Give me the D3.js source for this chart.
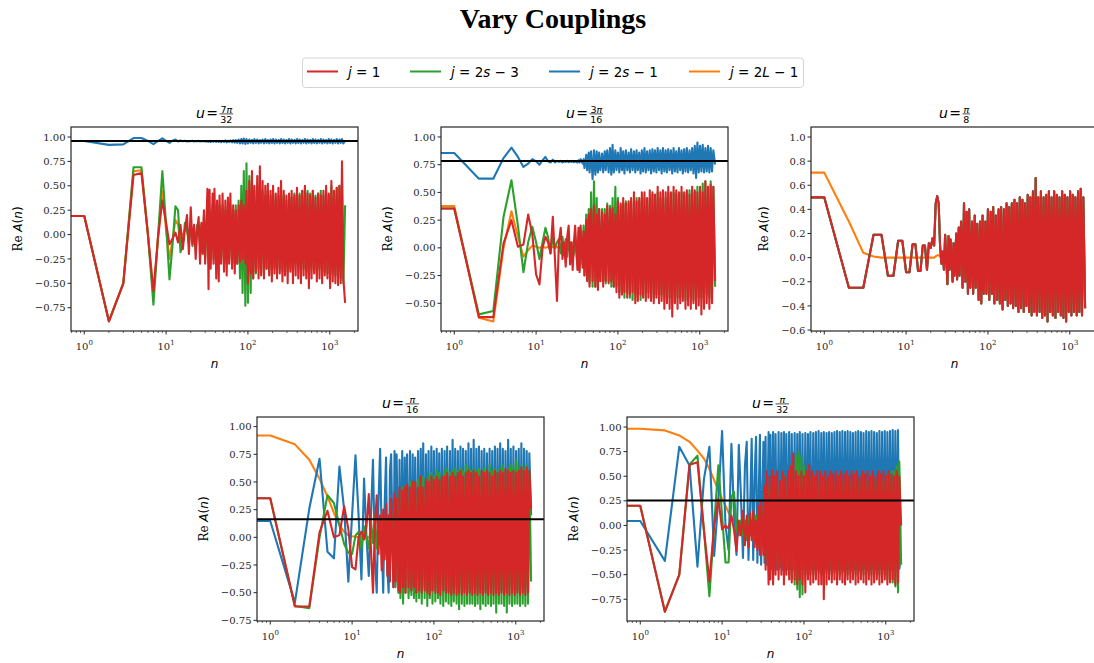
<!DOCTYPE html>
<html><head><meta charset="utf-8">
<script src="https://cdn.jsdelivr.net/npm/d3@7"></script>
<style>body{margin:0;background:#fff}svg{display:block}</style>
</head><body>
<svg id="c" width="1094" height="663"></svg>
<script>
// ---------------- DATA ----------------
const N_EARLY = [0,1,2,3,4,5,6,7,8,9,10,11,12,13,14,15,16,17,18,19,20,21,22,23,24,25,26,27,28,29,30];
const N_DENSE = [32,33,34,35,37,38,39,41,42,44, 45,47,49,51,53,55,57,59,61,64, 66,69,71,74,77,80,83,86,89,93,
 96,100,104,108,112,116,120,125,130,135, 140,145,151,157,163,169,175,182,189,196, 203,211,219,227,236,245,254,264,274,284,
 295,306,318,330,342,355,369,383,397,412, 428,444,461,479,497,516,535,556,577,599, 621,645,669,695,721,749,777,807,837,869,
 902,936,972,1009,1047,1087,1128,1171,1216,1262, 1310,1360,1411,1465,1540];
const N_ORANGE_TAIL = [40,100,400,1540];

const SERIES_KEYS = ['red','green','blue','orange'];
const LEGEND_LABELS = ['j = 1','j = 2s − 3','j = 2s − 1','j = 2L − 1'];
const TITLES = [['7π','32'],['3π','16'],['π','8'],['π','16'],['π','32']];
const HLINES = [0.959, 0.784, null, 0.163, 0.253];
const YTICKS_A = [-0.75,-0.5,-0.25,0,0.25,0.5,0.75,1.0];
const YTICKS_B = [-0.5,-0.25,0,0.25,0.5,0.75,1.0];
const YTICKS_C = [-0.6,-0.4,-0.2,0,0.2,0.4,0.6,0.8,1.0];
const X_MAJOR = [1,10,100,1000];
const X_MAJOR_EXP = ['0','1','2','3'];

// ---- u = 7pi/32 ----
const P1_RED = [0.19,0.19,-0.89,-0.5,0.61,0.63,0.0,-0.58,-0.02,0.35,0.12,-0.1,-0.04,0.02,-0.08,0.1,-0.15,0.05,0.2,-0.2,0.28,-0.1,0.1,-0.25,0.05,0.18,-0.3,0.12,-0.2,0.25,-0.3,
0.47,-0.56,0.46,-0.35,0.42,-0.3,0.47,-0.45,0.35,-0.48,
0.4,-0.3,0.42,-0.38,0.35,-0.42,0.38,-0.3,0.42,-0.35,
0.3,-0.4,0.25,-0.3,0.3,-0.28,0.35,-0.25,0.3,-0.3,
0.45,-0.5,0.55,-0.4,0.65,-0.45,0.5,-0.38,0.6,-0.45,
0.7,-0.42,0.55,-0.45,0.5,-0.35,0.52,-0.42,0.45,-0.48,
0.5,-0.4,0.42,-0.45,0.48,-0.4,0.55,-0.48,0.45,-0.42,
0.4,-0.5,0.42,-0.38,0.45,-0.5,0.4,-0.42,0.48,-0.45,
0.4,-0.5,0.45,-0.42,0.5,-0.45,0.42,-0.55,0.4,-0.45,
0.45,-0.4,0.38,-0.48,0.42,-0.45,0.4,-0.5,0.45,-0.42,
0.5,-0.45,0.42,-0.55,0.55,-0.48,0.45,-0.5,0.48,-0.52,
0.5,-0.5,0.75,-0.45,-0.7];
const P1_GREEN = [0.19,0.19,-0.89,-0.5,0.69,0.69,0.0,-0.72,0.0,0.65,0.1,-0.46,-0.1,0.29,0.25,-0.18,-0.1,0.12,0.05,-0.1,0.1,-0.12,0.08,-0.15,0.1,0.05,-0.1,0.1,-0.15,0.2,-0.25,
0.3,-0.3,0.25,-0.3,0.3,-0.25,0.3,-0.3,0.25,-0.3,
0.3,-0.25,0.3,-0.3,0.25,-0.3,0.3,-0.25,0.3,-0.3,
0.25,-0.3,0.3,-0.3,0.35,-0.45,0.5,-0.6,0.65,-0.73,
0.73,-0.7,0.6,-0.6,0.5,-0.45,0.45,-0.4,0.5,-0.35,
0.6,-0.4,0.45,-0.38,0.4,-0.35,0.45,-0.4,0.4,-0.35,
0.42,-0.35,0.38,-0.4,0.4,-0.35,0.42,-0.38,0.4,-0.35,
0.35,-0.38,0.4,-0.35,0.38,-0.4,0.42,-0.3,0.4,-0.35,
0.42,-0.4,0.45,-0.35,0.4,-0.38,0.45,-0.4,0.42,-0.35,
0.45,-0.38,0.4,-0.4,0.42,-0.35,0.45,-0.4,0.4,-0.38,
0.45,-0.4,0.4,-0.45,0.5,-0.4,0.45,-0.42,0.48,-0.45,
0.5,-0.45,0.55,-0.5,0.3];
const P1_BLUE = [0.96,0.96,0.92,0.925,0.99,0.99,0.96,0.928,0.96,0.986,0.96,0.94,0.962,0.975,0.955,0.965,0.958,0.962,0.955,0.96,0.957,0.962,0.955,0.96,0.956,0.961,0.955,0.96,0.957,0.96,0.955,
0.958,0.952,0.96,0.95,0.958,0.952,0.96,0.95,0.962,0.95,
0.96,0.948,0.962,0.95,0.965,0.946,0.962,0.95,0.965,0.945,
0.968,0.942,0.97,0.94,0.975,0.935,0.98,0.935,0.985,0.93,
0.98,0.935,0.975,0.94,0.97,0.935,0.98,0.94,0.975,0.935,
0.97,0.94,0.975,0.935,0.98,0.94,0.97,0.935,0.975,0.94,
0.98,0.935,0.975,0.94,0.97,0.935,0.98,0.94,0.975,0.935,
0.97,0.94,0.98,0.935,0.975,0.94,0.97,0.935,0.98,0.94,
0.975,0.935,0.97,0.94,0.98,0.935,0.975,0.94,0.97,0.935,
0.98,0.94,0.975,0.935,0.97,0.94,0.98,0.935,0.975,0.94,
0.97,0.935,0.98,0.94,0.975,0.935,0.97,0.94,0.98,0.935,
0.975,0.94,0.98,0.935,0.96];
const P1_ORANGE = [0.19,0.19,-0.89,-0.5,0.65,0.66,0.0,-0.62,0.0,0.45,0.05,-0.25,-0.05,0.15,0.1,-0.1,0.0,0.05,0.05,-0.02,0.05,-0.05,0.03,-0.03,0.02,0.01,-0.02,0.02,-0.01,0.01,0.0, 0,0,0,0];

// ---- u = 3pi/16 ----
const P2_RED = [0.355,0.355,-0.625,-0.625,0.04,0.25,0.01,0.03,0.3,0.12,-0.24,-0.33,0.0,0.1,0.05,-0.05,0.28,-0.1,-0.48,0.05,0.18,-0.1,0.05,-0.17,0.1,0.2,-0.15,0.05,-0.2,0.05,0.2,
-0.2,0.18,-0.22,0.2,-0.18,0.15,-0.25,0.25,-0.3,0.3,
-0.35,0.35,-0.3,0.38,-0.35,0.3,-0.38,0.35,-0.3,0.32,
-0.35,0.3,-0.3,0.38,-0.32,0.35,-0.3,0.36,-0.35,0.3,
-0.4,0.42,-0.45,0.4,-0.42,0.45,-0.4,0.4,-0.45,0.42,
-0.42,0.45,-0.4,0.5,-0.5,0.42,-0.48,0.45,-0.42,0.5,
-0.45,0.5,-0.48,0.45,-0.45,0.52,-0.48,0.5,-0.5,0.48,
-0.45,0.55,-0.5,0.5,-0.48,0.52,-0.55,0.5,-0.5,0.55,
-0.55,0.5,-0.62,0.55,-0.5,0.52,-0.55,0.5,-0.5,0.55,
-0.48,0.5,-0.55,0.52,-0.52,0.48,-0.55,0.55,-0.5,0.52,
-0.55,0.5,-0.52,0.55,-0.6,0.5,-0.55,0.6,-0.5,0.55,
-0.55,0.57,-0.5,0.55,-0.3];
const P2_GREEN = [0.355,0.355,-0.6,-0.57,0.28,0.61,0.2,-0.22,0.05,0.19,0.05,-0.1,0.05,0.18,0.1,-0.05,0.1,0.0,0.05,0.08,-0.05,0.1,-0.05,0.08,-0.08,0.1,-0.05,0.05,-0.1,-0.05,0.1,
-0.15,0.15,-0.2,0.15,-0.15,0.2,-0.25,0.3,-0.28,0.35,
-0.32,0.5,-0.35,0.6,-0.35,0.45,-0.3,0.35,-0.3,0.35,
-0.3,0.35,-0.32,0.4,-0.3,0.38,-0.35,0.45,-0.35,0.55,
-0.35,0.45,-0.4,0.38,-0.42,0.4,-0.45,0.42,-0.4,0.4,
-0.45,0.42,-0.47,0.4,-0.42,0.45,-0.45,0.42,-0.47,0.45,
-0.42,0.45,-0.45,0.42,-0.4,0.45,-0.42,0.48,-0.45,0.45,
-0.42,0.5,-0.45,0.45,-0.42,0.48,-0.45,0.45,-0.47,0.5,
-0.45,0.48,-0.5,0.5,-0.45,0.48,-0.45,0.45,-0.45,0.5,
-0.45,0.48,-0.47,0.5,-0.45,0.52,-0.45,0.5,-0.47,0.5,
-0.45,0.55,-0.45,0.52,-0.45,0.58,-0.45,0.6,-0.42,0.55,
-0.45,0.6,-0.42,0.55,-0.35];
const P2_BLUE = [0.855,0.855,0.624,0.624,0.81,0.904,0.82,0.73,0.76,0.8,0.78,0.75,0.79,0.82,0.78,0.77,0.795,0.77,0.785,0.775,0.785,0.77,0.78,0.775,0.785,0.772,0.782,0.775,0.785,0.772,0.78,
0.77,0.79,0.77,0.8,0.76,0.8,0.72,0.84,0.7,0.86,
0.68,0.87,0.62,0.88,0.66,0.87,0.68,0.86,0.7,0.85,
0.68,0.87,0.7,0.88,0.68,0.9,0.66,0.93,0.68,0.88,
0.7,0.86,0.68,0.9,0.7,0.87,0.67,0.88,0.7,0.86,
0.68,0.89,0.7,0.87,0.68,0.88,0.7,0.86,0.67,0.88,
0.69,0.9,0.68,0.87,0.7,0.88,0.67,0.89,0.69,0.88,
0.68,0.9,0.7,0.88,0.67,0.9,0.69,0.88,0.68,0.89,
0.7,0.88,0.67,0.9,0.69,0.87,0.68,0.9,0.7,0.88,
0.67,0.89,0.69,0.9,0.68,0.88,0.7,0.9,0.67,0.92,
0.63,0.95,0.68,0.92,0.69,0.93,0.68,0.9,0.69,0.92,
0.68,0.9,0.69,0.88,0.75];
const P2_ORANGE = [0.378,0.378,-0.63,-0.665,0.0,0.33,0.1,-0.08,-0.02,0.02,0.01,0.0,0.01,0.0,0.01,0.0,0.01,0.0,0.01,0.0,0.01,0.0,0.01,0.0,0.01,0.0,0.01,0.0,0.01,0.0,0.0, 0,0,0,0];

// ---- u = pi/8 (j = 1, 2s-3 and 2s-1 coincide) ----
const P3_RED = [0.5,0.5,-0.25,-0.25,0.19,0.19,-0.15,-0.15,0.14,0.14,-0.12,-0.12,0.11,0.11,-0.11,-0.11,0.1,0.1,-0.1,0.12,0.08,0.16,0.1,0.45,0.51,0.45,0.1,-0.05,0.05,-0.1,0.19,
-0.22,0.18,-0.1,0.15,-0.2,0.12,-0.15,0.2,-0.18,0.25,
-0.15,0.3,-0.25,0.45,-0.2,0.38,-0.3,0.4,-0.25,0.3,
-0.3,0.35,-0.25,0.28,-0.35,0.3,-0.38,0.35,-0.3,0.3,
-0.3,0.4,-0.35,0.38,-0.3,0.42,-0.38,0.35,-0.35,0.4,
-0.38,0.42,-0.43,0.4,-0.35,0.45,-0.4,0.42,-0.38,0.45,
-0.42,0.48,-0.4,0.45,-0.45,0.5,-0.42,0.48,-0.45,0.45,
-0.4,0.52,-0.45,0.5,-0.48,0.55,-0.45,0.66,-0.48,0.5,
-0.45,0.55,-0.5,0.5,-0.48,0.52,-0.53,0.55,-0.45,0.5,
-0.48,0.55,-0.5,0.52,-0.45,0.5,-0.48,0.55,-0.5,0.52,
-0.53,0.5,-0.45,0.55,-0.48,0.52,-0.45,0.5,-0.48,0.55,
-0.45,0.57,-0.48,0.5,-0.42];
const P3_GREEN = P3_RED;
const P3_BLUE = P3_RED;
const P3_ORANGE = [0.705,0.705,0.3,0.04,0.01,0.0,0.0,0.0,0.0,0.0,0.0,0.0,0.0,0.0,0.0,0.0,0.0,0.0,0.0,0.0,0.0,0.0,0.0,0.01,0.02,0.02,0.01,0.0,0.0,0.0,0.0, 0,0,0,0];

// ---- u = pi/16 ----
const P4_RED = [0.353,0.353,-0.625,-0.625,0.045,0.24,0.0,0.02,0.28,0.075,-0.27,-0.29,0.0,0.05,-0.02,0.1,0.39,-0.1,-0.5,0.1,0.38,-0.15,0.2,-0.3,0.25,-0.2,0.3,-0.35,0.2,-0.4,0.35,
-0.45,0.4,-0.4,0.35,-0.48,0.45,-0.5,0.42,-0.45,0.45,
-0.5,0.48,-0.45,0.45,-0.48,0.5,-0.45,0.5,-0.5,0.45,
-0.48,0.55,-0.5,0.45,-0.48,0.52,-0.5,0.5,-0.52,0.55,
-0.48,0.52,-0.5,0.55,-0.5,0.52,-0.52,0.55,-0.48,0.55,
-0.5,0.58,-0.5,0.55,-0.52,0.58,-0.5,0.55,-0.52,0.58,
-0.5,0.6,-0.52,0.55,-0.5,0.58,-0.52,0.6,-0.5,0.58,
-0.52,0.6,-0.5,0.58,-0.52,0.55,-0.5,0.6,-0.52,0.58,
-0.5,0.6,-0.52,0.58,-0.5,0.55,-0.52,0.6,-0.5,0.58,
-0.52,0.6,-0.5,0.58,-0.52,0.62,-0.5,0.6,-0.52,0.58,
-0.5,0.6,-0.52,0.58,-0.5,0.6,-0.52,0.63,-0.5,0.6,
-0.52,0.63,-0.5,0.6,0.25];
const P4_GREEN = [0.353,0.353,-0.62,-0.64,0.0,0.38,0.31,0.11,-0.06,-0.14,-0.15,0.015,0.05,-0.1,0.1,0.0,-0.1,0.15,-0.05,0.2,-0.1,0.1,-0.05,0.12,-0.12,0.1,-0.15,0.15,-0.2,-0.1,0.25,
-0.35,0.3,-0.45,0.35,-0.5,0.4,-0.55,0.45,-0.6,0.42,
-0.5,0.45,-0.55,0.5,-0.52,0.48,-0.55,0.5,-0.58,0.52,
-0.55,0.5,-0.6,0.55,-0.55,0.52,-0.62,0.55,-0.55,0.58,
-0.6,0.55,-0.58,0.6,-0.55,0.58,-0.6,0.55,-0.62,0.6,
-0.58,0.62,-0.6,0.58,-0.62,0.6,-0.58,0.62,-0.6,0.6,
-0.65,0.62,-0.6,0.6,-0.62,0.65,-0.6,0.62,-0.6,0.6,
-0.6,0.62,-0.62,0.6,-0.6,0.62,-0.65,0.6,-0.6,0.62,
-0.62,0.6,-0.6,0.65,-0.62,0.6,-0.6,0.62,-0.68,0.6,
-0.6,0.62,-0.6,0.65,-0.62,0.6,-0.68,0.62,-0.6,0.65,
-0.62,0.65,-0.6,0.7,-0.6,0.62,-0.62,0.65,-0.6,0.62,
-0.62,0.65,-0.6,0.6,-0.4];
const P4_BLUE = [0.148,0.148,-0.59,0.26,0.71,-0.13,-0.19,0.64,0.25,-0.4,0.2,0.74,0.2,-0.38,0.53,0.0,-0.35,0.2,0.7,-0.2,-0.5,0.3,0.8,0.0,-0.5,0.3,0.72,-0.3,-0.5,0.6,0.75,
-0.45,0.78,-0.4,0.75,-0.5,0.7,-0.45,0.78,-0.5,0.72,
-0.45,0.75,-0.5,0.78,-0.48,0.75,-0.45,0.72,-0.5,0.78,
-0.45,0.8,-0.48,0.85,-0.45,0.75,-0.48,0.78,-0.45,0.82,
-0.48,0.78,-0.45,0.8,-0.48,0.76,-0.45,0.8,-0.48,0.78,
-0.45,0.82,-0.48,0.78,-0.45,0.88,-0.48,0.8,-0.45,0.78,
-0.48,0.82,-0.45,0.8,-0.48,0.78,-0.45,0.85,-0.48,0.8,
-0.45,0.88,-0.48,0.8,-0.45,0.82,-0.48,0.78,-0.45,0.8,
-0.48,0.76,-0.45,0.8,-0.48,0.78,-0.45,0.82,-0.48,0.8,
-0.45,0.85,-0.48,0.8,-0.45,0.78,-0.48,0.88,-0.45,0.8,
-0.48,0.82,-0.45,0.78,-0.48,0.8,-0.45,0.85,-0.48,0.8,
-0.45,0.78,-0.48,0.76,0.2];
const P4_ORANGE = [0.92,0.92,0.84,0.70,0.53,0.37,0.22,0.11,0.05,0.02,0.01,0.005,0.0,0.0,0.0,0.0,0.0,0.0,0.0,0.0,0.0,0.0,0.0,0.0,0.0,0.0,0.0,0.0,0.0,0.0,0.0, 0,0,0,0];

// ---- u = pi/32 ----
const P5_RED = [0.2,0.2,-0.876,-0.5,0.616,0.643,-0.05,-0.565,0.0,0.27,-0.04,0.0,-0.03,0.1,-0.05,-0.26,0.05,-0.1,0.15,-0.2,0.1,-0.22,0.12,-0.15,0.15,-0.22,0.05,-0.25,0.2,-0.3,0.25,
-0.3,0.4,-0.45,0.55,-0.6,0.5,-0.55,0.56,-0.6,0.5,
-0.5,0.55,-0.55,0.45,-0.5,0.55,-0.6,0.5,-0.5,0.55,
-0.55,0.6,-0.58,0.73,-0.55,0.55,-0.6,0.5,-0.55,0.55,
-0.6,0.5,-0.68,0.55,-0.55,0.62,-0.6,0.55,-0.58,0.5,
-0.55,0.55,-0.6,0.55,-0.6,0.5,-0.75,0.55,-0.6,0.5,
-0.55,0.55,-0.58,0.52,-0.55,0.55,-0.6,0.5,-0.55,0.55,
-0.58,0.52,-0.6,0.55,-0.55,0.5,-0.58,0.55,-0.55,0.52,
-0.6,0.55,-0.58,0.5,-0.55,0.55,-0.58,0.52,-0.6,0.55,
-0.55,0.5,-0.6,0.55,-0.58,0.5,-0.55,0.55,-0.6,0.52,
-0.58,0.55,-0.55,0.5,-0.6,0.55,-0.58,0.52,-0.55,0.5,
-0.6,0.55,-0.58,0.5,0.0];
const P5_GREEN = [0.2,0.2,-0.876,-0.5,0.62,0.71,-0.05,-0.72,0.0,0.61,0.1,-0.376,-0.376,0.29,0.34,-0.05,-0.1,0.05,-0.1,0.05,-0.15,0.08,-0.1,0.05,-0.15,0.1,0.1,-0.2,0.1,-0.25,0.2,
-0.2,0.3,-0.35,0.4,-0.45,0.4,-0.4,0.45,-0.45,0.4,
-0.4,0.45,-0.45,0.4,-0.4,0.45,-0.45,0.5,-0.45,0.45,
-0.5,0.5,-0.55,0.6,-0.6,0.7,-0.65,0.75,-0.73,0.7,
-0.7,0.6,-0.5,0.45,-0.5,0.45,-0.5,0.5,-0.5,0.45,
-0.5,0.45,-0.48,0.45,-0.5,0.45,-0.5,0.45,-0.48,0.45,
-0.5,0.45,-0.5,0.45,-0.48,0.45,-0.5,0.45,-0.5,0.45,
-0.48,0.45,-0.5,0.45,-0.5,0.45,-0.48,0.45,-0.5,0.45,
-0.5,0.45,-0.48,0.45,-0.5,0.45,-0.5,0.45,-0.48,0.45,
-0.5,0.45,-0.5,0.45,-0.48,0.45,-0.5,0.45,-0.5,0.45,
-0.5,0.45,-0.5,0.5,-0.55,0.5,-0.55,0.55,-0.58,0.55,
-0.62,0.6,-0.68,0.65,-0.4];
const P5_BLUE = [0.045,0.045,-0.36,0.8,0.61,-0.42,0.47,0.8,-0.31,0.27,0.96,0.0,-0.25,0.83,0.1,-0.3,0.82,0.3,-0.33,0.6,0.85,-0.35,0.2,0.88,-0.35,0.5,0.9,-0.38,0.3,0.92,-0.4,
0.85,-0.38,0.9,-0.4,0.95,-0.42,0.92,-0.45,0.95,-0.42,
0.93,-0.45,0.95,-0.43,0.94,-0.45,0.95,-0.45,0.93,-0.45,
0.95,-0.44,0.93,-0.45,0.94,-0.45,0.93,-0.45,0.95,-0.44,
0.93,-0.45,0.94,-0.45,0.93,-0.44,0.95,-0.45,0.94,-0.45,
0.95,-0.44,0.96,-0.45,0.94,-0.45,0.95,-0.44,0.94,-0.45,
0.95,-0.45,0.94,-0.44,0.95,-0.45,0.96,-0.45,0.95,-0.44,
0.96,-0.45,0.95,-0.45,0.96,-0.44,0.95,-0.45,0.94,-0.45,
0.95,-0.44,0.96,-0.45,0.95,-0.45,0.94,-0.44,0.96,-0.45,
0.95,-0.45,0.96,-0.44,0.95,-0.45,0.94,-0.45,0.96,-0.44,
0.95,-0.45,0.96,-0.45,0.95,-0.44,0.96,-0.45,0.97,-0.45,
0.96,-0.45,0.97,-0.44,-0.3];
const P5_ORANGE = [0.983,0.983,0.966,0.915,0.85,0.76,0.68,0.575,0.46,0.355,0.27,0.2,0.13,0.08,0.05,0.03,0.015,0.005,0.0,0.0,0.0,0.0,0.0,0.0,0.0,0.0,0.0,0.0,0.0,0.0,0.0, 0,0,0,0];

// ---------------- LAYOUT / CONFIG ----------------
const N_ALL = N_EARLY.concat(N_DENSE);
const N_OR = N_EARLY.concat(N_ORANGE_TAIL);
const COLORS = {red:'#d62728', green:'#2ca02c', blue:'#1f77b4', orange:'#ff7f0e'};
const DRAW_ORDER = ['orange','blue','green','red'];
const W = 287, H = 204;
const X_DOMAIN = [Math.pow(10,-0.162), Math.pow(10,3.345)];
const PANELS = [
  {left:71,  top:127, ylim:[-0.989,1.103], yticks:YTICKS_A, dec:2, s:{red:P1_RED,green:P1_GREEN,blue:P1_BLUE,orange:P1_ORANGE}},
  {left:441, top:127, ylim:[-0.75,1.09],   yticks:YTICKS_B, dec:2, s:{red:P2_RED,green:P2_GREEN,blue:P2_BLUE,orange:P2_ORANGE}},
  {left:811, top:127, ylim:[-0.608,1.083], yticks:YTICKS_C, dec:1, s:{red:P3_RED,green:P3_GREEN,blue:P3_BLUE,orange:P3_ORANGE}},
  {left:257, top:417, ylim:[-0.756,1.087], yticks:YTICKS_A, dec:2, s:{red:P4_RED,green:P4_GREEN,blue:P4_BLUE,orange:P4_ORANGE}},
  {left:627, top:417, ylim:[-0.971,1.102], yticks:YTICKS_A, dec:2, s:{red:P5_RED,green:P5_GREEN,blue:P5_BLUE,orange:P5_ORANGE}}
];
const SERIF = "'DejaVu Serif', serif";
const SANS = "'DejaVu Sans', sans-serif";
const AX = '#262626';

const svg = d3.select('#c');
svg.append('rect').attr('width',1094).attr('height',663).attr('fill','#fff');

svg.append('text').attr('x',553).attr('y',28).attr('text-anchor','middle')
  .attr('font-family',"'Liberation Serif', serif").attr('font-weight','bold').attr('font-size',28)
  .attr('fill','#000').text('Vary Couplings');

function mathText(sel, str){
  const parts = str.match(/[A-Za-zπ]+|[^A-Za-zπ]+/g);
  parts.forEach(p=>{
    const t = sel.append('tspan').text(p);
    if (/^[A-Za-zπ]+$/.test(p)) t.attr('font-style','italic');
  });
}

// legend
const LEG_X = [307,410,549,689];
const lg = svg.append('g');
lg.append('rect').attr('x',302.5).attr('y',58).attr('width',501).attr('height',29.5).attr('rx',3)
  .attr('fill','#fff').attr('stroke','#d4d4d4').attr('stroke-width',1);
SERIES_KEYS.forEach((k,i)=>{
  lg.append('line').attr('x1',LEG_X[i]).attr('x2',LEG_X[i]+31).attr('y1',71.5).attr('y2',71.5)
    .attr('stroke',COLORS[k]).attr('stroke-width',2);
  const t = lg.append('text').attr('x',LEG_X[i]+41).attr('y',76.5).attr('font-family',SANS).attr('font-size',13.5).attr('fill','#000');
  mathText(t, LEGEND_LABELS[i]);
});

const fmtMinus = s => s.replace('-', '−');

PANELS.forEach((p,pi)=>{
  const g = svg.append('g').attr('transform',`translate(${p.left},${p.top})`);
  const x = d3.scaleLog().domain(X_DOMAIN).range([0,W]).clamp(true);
  const y = d3.scaleLinear().domain(p.ylim).range([H,0]);
  const cid = 'clip'+pi;
  g.append('clipPath').attr('id',cid).append('rect').attr('width',W).attr('height',H);
  const plot = g.append('g').attr('clip-path',`url(#${cid})`);
  const line = d3.line().defined(d=>d[1]!=null).x(d=>x(d[0])).y(d=>y(d[1]));
  DRAW_ORDER.forEach(k=>{
    const ns = k==='orange' ? N_OR : N_ALL;
    const vals = p.s[k];
    plot.append('path').datum(ns.map((n,i)=>[n, vals[i]]))
      .attr('d',line).attr('fill','none').attr('stroke',COLORS[k])
      .attr('stroke-width',2.1).attr('stroke-linejoin','round').attr('stroke-linecap','butt');
  });
  if (HLINES[pi] != null){
    plot.append('line').attr('x1',0).attr('x2',W).attr('y1',y(HLINES[pi])).attr('y2',y(HLINES[pi]))
      .attr('stroke','#000').attr('stroke-width',2);
  }
  g.append('rect').attr('width',W).attr('height',H).attr('fill','none').attr('stroke',AX).attr('stroke-width',1.2);

  const fmt = d3.format('.'+p.dec+'f');
  p.yticks.forEach(v=>{
    const yy = y(v);
    g.append('line').attr('x1',-3.5).attr('x2',0).attr('y1',yy).attr('y2',yy).attr('stroke',AX).attr('stroke-width',1);
    g.append('text').attr('x',-5.5).attr('y',yy).attr('dy','0.36em').attr('text-anchor','end')
      .attr('font-family',SERIF).attr('font-size',10).attr('fill','#262626').text(fmtMinus(fmt(v)));
  });
  x.ticks().forEach(v=>{
    if (X_MAJOR.indexOf(v) >= 0) return;
    const xx = x(v);
    g.append('line').attr('x1',xx).attr('x2',xx).attr('y1',H).attr('y2',H+2).attr('stroke',AX).attr('stroke-width',0.7);
  });
  X_MAJOR.forEach((v,i)=>{
    const xx = x(v);
    g.append('line').attr('x1',xx).attr('x2',xx).attr('y1',H).attr('y2',H+3.5).attr('stroke',AX).attr('stroke-width',1);
    const t = g.append('text').attr('x',xx).attr('y',H+18.5).attr('text-anchor','middle')
      .attr('font-family',SERIF).attr('font-size',10).attr('fill','#262626');
    t.append('tspan').text('10');
    t.append('tspan').attr('dy',-4.5).attr('font-size',7).text(X_MAJOR_EXP[i]);
  });
  g.append('text').attr('x',W/2).attr('y',H+37).attr('text-anchor','middle')
    .attr('font-family',SANS).attr('font-style','italic').attr('font-size',12).attr('fill','#000').text('n');
  const yl = g.append('text').attr('transform',`translate(${p.dec===1?-43.5:-49.5},${H/2}) rotate(-90)`)
    .attr('text-anchor','middle').attr('font-size',12).attr('fill','#000');
  yl.append('tspan').attr('font-family',SERIF).text('Re ');
  yl.append('tspan').attr('font-family',SANS).attr('font-style','italic').text('A');
  yl.append('tspan').attr('font-family',SANS).text('(');
  yl.append('tspan').attr('font-family',SANS).attr('font-style','italic').text('n');
  yl.append('tspan').attr('font-family',SANS).text(')');

  // subplot title: u = num/den
  const tg = g.append('g');
  const tu = tg.append('text').attr('x',0).attr('y',0).attr('font-family',SANS).attr('font-size',14)
    .attr('font-style','italic').attr('fill','#000').text('u');
  const wu = tu.node().getComputedTextLength();
  const te = tg.append('text').attr('x',wu+1.5).attr('y',0).attr('font-family',SANS).attr('font-size',14).attr('fill','#000').text('=');
  const we = te.node().getComputedTextLength();
  const fx = wu + 1.5 + we + 1.5;
  const [numS, denS] = TITLES[pi];
  const num = tg.append('text').attr('y',-5).attr('font-family',SANS).attr('font-size',9.5).attr('text-anchor','middle').attr('fill','#000');
  mathText(num, numS);
  const den = tg.append('text').attr('y',5.5).attr('font-family',SANS).attr('font-size',9.5).attr('text-anchor','middle').attr('fill','#000').text(denS);
  const fw = Math.max(num.node().getComputedTextLength(), den.node().getComputedTextLength()) + 1.5;
  num.attr('x', fx + fw/2); den.attr('x', fx + fw/2);
  tg.append('line').attr('x1',fx).attr('x2',fx+fw).attr('y1',-3.6).attr('y2',-3.6).attr('stroke','#000').attr('stroke-width',0.7);
  const total = fx + fw;
  tg.attr('transform',`translate(${W/2 - total/2},${-9.5})`);
});
</script>
</body></html>
